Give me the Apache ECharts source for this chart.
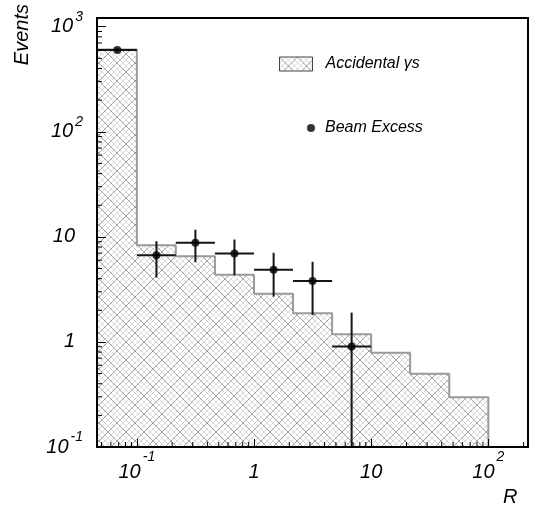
<!DOCTYPE html>
<html><head><meta charset="utf-8">
<script src="https://cdn.jsdelivr.net/npm/echarts@6/dist/echarts.min.js"></script>
<style>html,body{margin:0;padding:0;background:#fff}#c{width:534px;height:508px}</style>
</head><body><div id="c"></div>
<script>
// ---- data ----
const binEdges   = [0.0464, 0.1, 0.215, 0.464, 1, 2.15, 4.64, 10, 21.5, 46.4, 100];
const accidental = [608, 8.3, 6.55, 4.36, 2.88, 1.87, 1.18, 0.787, 0.497, 0.297];
const excessX     = [0.0681, 0.147, 0.316, 0.681, 1.47, 3.16, 6.81];
const excessY     = [600, 6.69, 8.77, 6.95, 4.86, 3.79, 0.904];
const excessYLow  = [575, 4.1, 5.74, 4.32, 2.70, 1.80, 0.1];
const excessYHigh = [625, 9.09, 11.7, 9.43, 7.05, 5.79, 1.90];
const excessXLow  = [0.0464, 0.1, 0.215, 0.464, 1, 2.15, 4.64];
const excessXHigh = [0.1, 0.215, 0.464, 1, 2.15, 4.64, 10];
const xRange = [0.0457, 218];
const yRange = [0.1, 1210];
const legendNames = ['Accidental γs', 'Beam Excess'];

const FONT = 'Liberation Sans';

function makeHatch(){
  const s = 18, c = document.createElement('canvas');
  c.width = c.height = s;
  const g = c.getContext('2d');
  g.fillStyle = '#fff'; g.fillRect(0,0,s,s);
  g.lineWidth = 1;
  function diag(step, color){
    g.strokeStyle = color;
    for (let k = -s; k <= s; k += step){
      g.beginPath(); g.moveTo(k,0); g.lineTo(k+s,s); g.stroke();
      g.beginPath(); g.moveTo(k+s,0); g.lineTo(k,s); g.stroke();
    }
  }
  diag(6, '#dadada');
  diag(18, '#a2a2a2');
  return c;
}
const hatch = {image: makeHatch(), repeat: 'repeat'};

function isPow10(v){ const l = Math.log10(v); return Math.abs(l - Math.round(l)) < 1e-6 ? Math.round(l) : null; }
function yFmt(v){
  const e = isPow10(v); if (e === null) return '';
  if (e === 0) return '{b|1}{sp|}';
  if (e === 1) return '{b|10}{sp|}';
  return '{b|10}{s|' + e + '}';
}
function xFmt(v){
  const e = isPow10(v); if (e === null) return '';
  if (e === 0) return '{b|1}';
  if (e === 1) return '{b|10}';
  return '{b|10}{s|' + e + '}';
}

// minor log ticks (2..9 x 10^k) inside the axis ranges
function minorTicks(range){
  const out = [];
  for (let k = -3; k <= 3; k++) for (let m = 2; m <= 9; m++){
    const v = m * Math.pow(10, k);
    if (v > range[0] && v < range[1]) out.push(v);
  }
  return out;
}

const chart = echarts.init(document.getElementById('c'), null, {renderer:'canvas'});
const option = {
  animation: false,
  backgroundColor: '#fff',
  grid: {left: 97, top: 18, width: 431, height: 429, show: true, borderColor: '#000', borderWidth: 2, backgroundColor: 'transparent'},
  xAxis: {
    type: 'log', logBase: 10, min: xRange[0], max: xRange[1], z: 10,
    axisLine: {show: true, lineStyle: {color: '#000', width: 2}},
    axisTick: {show: true, inside: true, length: 8, lineStyle: {color: '#000', width: 1}},
    splitLine: {show: false}, minorTick: {show: false},
    axisLabel: {
      show: true, margin: 9, formatter: xFmt, showMinLabel: false, showMaxLabel: false,
      rich: {
        b: {fontFamily: FONT, fontStyle: 'italic', fontSize: 20, lineHeight: 20, padding: [12,0,0,0], color: '#000'},
        s: {fontFamily: FONT, fontStyle: 'italic', fontSize: 14, lineHeight: 14, padding: [0,0,18,2], color: '#000'}
      }
    }
  },
  yAxis: {
    type: 'log', logBase: 10, min: yRange[0], max: yRange[1], z: 10,
    axisLine: {show: true, lineStyle: {color: '#000', width: 2}},
    axisTick: {show: true, inside: true, length: 9, lineStyle: {color: '#000', width: 1}},
    splitLine: {show: false}, minorTick: {show: false},
    axisLabel: {
      show: true, margin: 14, formatter: yFmt, showMinLabel: true, showMaxLabel: false,
      rich: {
        b: {fontFamily: FONT, fontStyle: 'italic', fontSize: 20, lineHeight: 20, color: '#000'},
        s: {fontFamily: FONT, fontStyle: 'italic', fontSize: 14, lineHeight: 14, padding: [0,0,20,2], color: '#000'},
        sp: {width: 8}
      }
    }
  },
  legend: [
    {
      data: [{name: legendNames[0], icon: 'rect', itemStyle: {color: hatch, borderColor: '#444', borderWidth: 1}}],
      left: 279, top: 56, padding: 0, itemWidth: 33, itemHeight: 14, selectedMode: false,
      textStyle: {fontFamily: FONT, fontStyle: 'italic', fontSize: 16, color: '#000', padding: [0,0,0,8]}
    },
    {
      data: [{name: legendNames[1], icon: 'circle', itemStyle: {color: '#000'}}],
      left: 307, top: 120, padding: 0, itemWidth: 8, itemHeight: 8, selectedMode: false,
      textStyle: {fontFamily: FONT, fontStyle: 'italic', fontSize: 16, color: '#000', padding: [0,0,0,5]}
    }
  ],
  graphic: [
    {type: 'text', x: 22, y: 4, rotation: Math.PI/2, z: 20,
     style: {text: 'Events', font: 'italic 20px "Liberation Sans"', fill: '#000', align: 'right', verticalAlign: 'middle'}},
    {type: 'text', x: 503, y: 487, z: 20,
     style: {text: 'R', font: 'italic 20px "Liberation Sans"', fill: '#000', align: 'left', verticalAlign: 'top'}}
  ],
  series: [
    {
      type: 'custom', name: legendNames[0], z: 1, clip: true,
      itemStyle: {color: hatch},
      data: accidental.map((v, i) => [binEdges[i], v, binEdges[i+1]]),
      encode: {x: [0, 2], y: 1},
      renderItem: function(params, api){
        const p0 = api.coord([api.value(0), api.value(1)]);
        const p1 = api.coord([api.value(2), yRange[0]]);
        return {type: 'rect', shape: {x: p0[0], y: p0[1], width: p1[0]-p0[0], height: p1[1]-p0[1]},
                style: {fill: hatch}};
      }
    },
    {
      type: 'line', step: 'end', z: 3, symbol: 'none', silent: true,
      data: binEdges.map((e, i) => [e, i < accidental.length ? accidental[i] : yRange[0]]),
      lineStyle: {color: '#9a9a9a', width: 2}
    },
    {
      type: 'custom', z: 5, clip: true, silent: true,
      data: excessX.map((x, i) => [x, excessY[i], excessXLow[i], excessXHigh[i], excessYLow[i], excessYHigh[i]]),
      encode: {x: [0, 2, 3], y: [1, 4, 5]},
      renderItem: function(params, api){
        const c  = api.coord([api.value(0), api.value(1)]);
        const l  = api.coord([api.value(2), api.value(1)]);
        const r  = api.coord([api.value(3), api.value(1)]);
        const lo = api.coord([api.value(0), api.value(4)]);
        const hi = api.coord([api.value(0), api.value(5)]);
        const st = {stroke: '#151515', lineWidth: 2};
        return {type: 'group', children: [
          {type: 'line', shape: {x1: l[0], y1: c[1], x2: r[0], y2: c[1]}, style: st},
          {type: 'line', shape: {x1: c[0], y1: lo[1], x2: c[0], y2: hi[1]}, style: st}
        ]};
      }
    },
    {
      type: 'scatter', name: legendNames[1], z: 6, symbol: 'circle', symbolSize: 8,
      itemStyle: {color: '#000'},
      data: excessX.map((x, i) => [x, excessY[i]])
    },
    {
      type: 'custom', z: 11, silent: true, clip: true,
      data: minorTicks(yRange).map(v => [xRange[0], v]),
      renderItem: function(params, api){
        const p = api.coord([api.value(0), api.value(1)]);
        return {type: 'line', shape: {x1: p[0], y1: p[1], x2: p[0]+5, y2: p[1]}, style: {stroke: '#000', lineWidth: 1}};
      }
    },
    {
      type: 'custom', z: 11, silent: true, clip: true,
      data: minorTicks(xRange).map(v => [v, yRange[0]]),
      renderItem: function(params, api){
        const p = api.coord([api.value(0), api.value(1)]);
        return {type: 'line', shape: {x1: p[0], y1: p[1], x2: p[0], y2: p[1]-5}, style: {stroke: '#000', lineWidth: 1}};
      }
    }
  ]
};
chart.setOption(option);
</script>
</body></html>
